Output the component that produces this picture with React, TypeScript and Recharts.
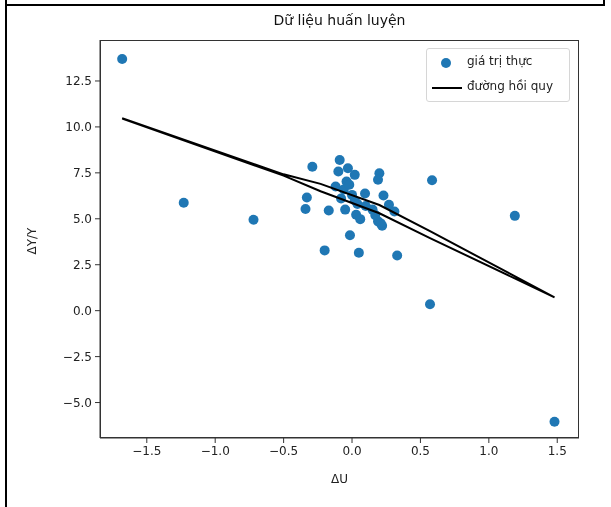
import React from 'react';
import { ScatterChart, Scatter, XAxis, YAxis } from 'recharts';

// measured values (ΔU vs ΔY/Y)
const dU = [
  -1.68, -1.23, -0.72, -0.33, -0.34, -0.29, -0.2, -0.17, -0.09, -0.1,
  -0.03, 0.02, -0.04, -0.12, 0.2, 0.19, 0.095, 0.23, 0.27, 0.31,
  -0.05, 0.03, 0.06, 0.19, 0.22, -0.015, 0.05, 0.33, 0.585, 1.19,
  0.57, 1.48, -0.06, 0.0, -0.08, 0.02, 0.1, 0.15, 0.17, -0.02,
  0.04, 0.21,
];
const dYY = [
  13.7, 5.87, 4.95, 6.16, 5.53, 7.83, 3.28, 5.45, 8.2, 7.57,
  7.75, 7.39, 7.03, 6.76, 7.48, 7.12, 6.38, 6.27, 5.76, 5.4,
  5.5, 5.22, 4.98, 4.86, 4.62, 4.1, 3.15, 3.0, 7.1, 5.16,
  0.35, -6.05, 6.6, 6.3, 6.1, 6.0, 5.7, 5.5, 5.2, 6.85,
  5.8, 4.75,
];

// regression predictions, in data order
const fitX = [-1.68, -0.5, -0.23, 0.2, 0.57, 1.48, 0.57, 0.2, -0.23, -0.5, -1.68];
const fitY = [10.48, 7.42, 6.9, 5.75, 4.33, 0.72, 3.95, 5.3, 6.5, 7.35, 10.45];

const xTicks = [-1.5, -1.0, -0.5, 0.0, 0.5, 1.0, 1.5];
const yTicks = [-5.0, -2.5, 0.0, 2.5, 5.0, 7.5, 10.0, 12.5];

const points = dU.map((x, i) => ({ x, y: dYY[i] }));
const fitLine = fitX.map((x, i) => ({ x, y: fitY[i] }));

const fmt = (v: number) => v.toFixed(1).replace('-', '\u2212');
const FONT = '"DejaVu Sans", sans-serif';
const tickStyle = { fontSize: 12, fill: '#222', fontFamily: FONT };

export default function App() {
  return (
    <div style={{ position: 'fixed', left: 0, top: 0, width: 611, height: 507, background: '#fff', fontFamily: FONT }}>
      {/* screenshot frame lines */}
      <div style={{ position: 'absolute', left: 5, top: 0, width: 2, height: 507, background: '#000' }} />
      <div style={{ position: 'absolute', left: 5, top: 4, width: 600, height: 2, background: '#000' }} />
      <div style={{ position: 'absolute', left: 603, top: 0, width: 2, height: 6, background: '#000' }} />

      <div style={{ position: 'absolute', left: 0, top: 12, width: 679, textAlign: 'center', fontSize: 14, color: '#111' }}>
        Dữ liệu huấn luyện
      </div>

      <ScatterChart width={611} height={507} margin={{ top: 40, right: 32, bottom: 39, left: 40 }} style={{ position: 'absolute', left: 0, top: 0 }}>
        <XAxis
          type="number"
          dataKey="x"
          domain={[-1.842, 1.659]}
          ticks={xTicks}
          tickFormatter={fmt}
          allowDataOverflow
          tick={tickStyle}
          tickSize={5}
          tickMargin={3}
          height={30}
          stroke="#333"
        />
        <YAxis
          type="number"
          dataKey="y"
          domain={[-6.93, 14.73]}
          ticks={yTicks}
          tickFormatter={fmt}
          allowDataOverflow
          tick={tickStyle}
          tickSize={5}
          tickMargin={3}
          width={60}
          stroke="#333"
        />
        <Scatter data={points} fill="#1f77b4" isAnimationActive={false} shape={(p: any) => <circle cx={p.cx} cy={p.cy} r={5} fill="#1f77b4" />} />
        <Scatter
          data={fitLine}
          line={{ stroke: '#000', strokeWidth: 2 }}
          lineJointType="linear"
          shape={() => <g />}
          isAnimationActive={false}
        />
      </ScatterChart>

      {/* axes box */}
      <div style={{ position: 'absolute', left: 100, top: 40, width: 479, height: 398, border: '1px solid #333', boxSizing: 'border-box', pointerEvents: 'none' }} />

      <div style={{ position: 'absolute', left: 0, top: 472, width: 679, textAlign: 'center', fontSize: 12, color: '#222' }}>ΔU</div>
      <div style={{ position: 'absolute', left: 32, top: 241, transform: 'translate(-50%, -50%) rotate(-90deg)', fontSize: 12, color: '#222', whiteSpace: 'nowrap' }}>
        ΔY/Y
      </div>

      {/* legend */}
      <div style={{ position: 'absolute', left: 426, top: 48, width: 144, height: 54, border: '1px solid #d6d6d6', borderRadius: 3, background: 'rgba(255,255,255,0.8)', boxSizing: 'border-box', fontSize: 12, color: '#222' }}>
        <div style={{ position: 'absolute', left: 14, top: 9, width: 10, height: 10, borderRadius: 5, background: '#1f77b4' }} />
        <div style={{ position: 'absolute', left: 40, top: 5 }}>giá trị thực</div>
        <div style={{ position: 'absolute', left: 5, top: 38, width: 30, height: 2, background: '#000' }} />
        <div style={{ position: 'absolute', left: 40, top: 30 }}>đường hồi quy</div>
      </div>
    </div>
  );
}
